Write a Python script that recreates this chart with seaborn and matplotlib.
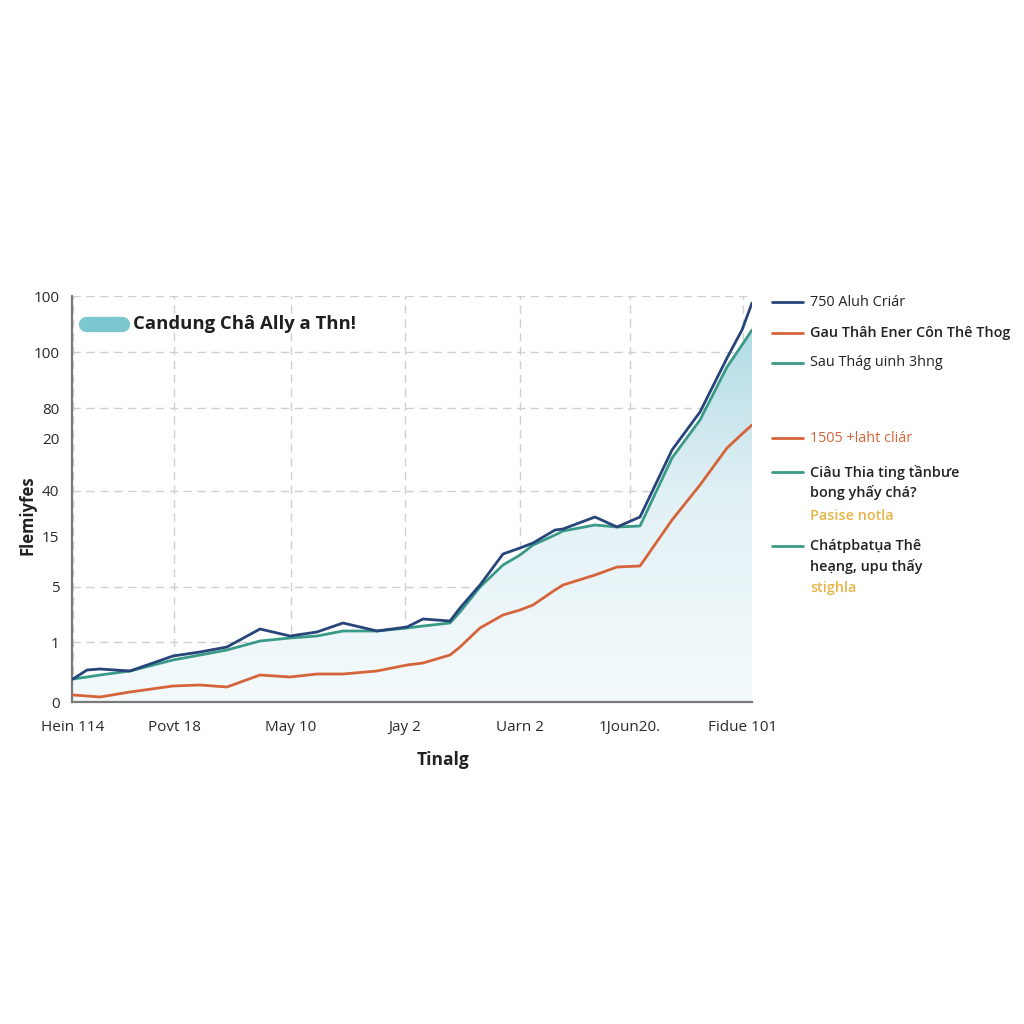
import numpy as np
import pandas as pd
import matplotlib
matplotlib.use("Agg")
import matplotlib.pyplot as plt
import seaborn as sns
from matplotlib.lines import Line2D
from matplotlib.colors import LinearSegmentedColormap

# ---------------- data ----------------
x_pos = [0, 14, 27, 57, 100, 127, 154, 187, 217, 244, 270, 304, 334, 350, 377,
         387, 407, 430, 447, 460, 482, 490, 522, 544, 567, 599, 627, 654, 669, 679]
navy = [23, 32, 33, 31, 46, 50, 55, 73, 66, 70, 79, 71, 75, 83, 81,
        94, 117, 148, 154, 159, 172, 173, 185, 175, 185, 252, 290, 344, 372, 399]
teal = [23, 25, 27, 31, 42, 47, 52, 61, 64, 66, 71, 71, 74, 76, 79,
        90, 115, 137, 147, 157, 167, 171, 177, 175, 176, 244, 282, 335, 357, 372]
orange = [7, 6, 5, 10, 16, 17, 15, 27, 25, 28, 28, 31, 37, 39, 47,
          55, 74, 87, 92, 97, 112, 117, 127, 135, 136, 182, 217, 254, 268, 277]

x_ticks = [0, 101, 218, 332, 447, 557, 670]
x_labels = ["Hein 114", "Povt 18", "May 10", "Jay 2", "Uarn 2", "1Joun20.", "Fidue 101"]
y_major = [0, 60, 115, 211, 294, 350, 406]
y_major_labels = ["0", "1", "5", "40", "80", "100", "100"]
y_minor = [165, 264]
y_minor_labels = ["15", "20"]

C_NAVY = "#27457a"
C_TEAL = "#3a9a88"
C_ORANGE = "#d5643a"
C_GOLD = "#e6b548"
C_PILL = "#7cc6cf"

df = pd.DataFrame({"x": x_pos, "navy": navy, "teal": teal, "orange": orange})

# ---------------- figure ----------------
sns.set_theme(style="white")
plt.rcParams["font.family"] = ["Open Sans", "Noto Sans", "DejaVu Sans"]

fig = plt.figure(figsize=(10.24, 10.24), dpi=100)
fig.patch.set_facecolor("white")
ax = fig.add_axes([72 / 1024, 1 - 702 / 1024, (752 - 72) / 1024, (702 - 296) / 1024])
ax.set_facecolor("white")

# gradient fill under teal line
poly = ax.fill_between(df["x"], 0, df["teal"], color="none", lw=0)
cmap = LinearSegmentedColormap.from_list("g", ["#f4fafc", "#e2f1f5", "#a9d8e3"])
grad = np.linspace(0, 1, 256).reshape(-1, 1)
im = ax.imshow(grad, extent=[min(x_pos), max(x_pos), 0, 406], origin="lower",
               aspect="auto", cmap=cmap, zorder=1)
im.set_clip_path(poly.get_paths()[0], transform=ax.transData)

sns.lineplot(data=df, x="x", y="orange", color=C_ORANGE, lw=2.0, ax=ax, zorder=3)
sns.lineplot(data=df, x="x", y="teal", color=C_TEAL, lw=2.0, ax=ax, zorder=4)
sns.lineplot(data=df, x="x", y="navy", color=C_NAVY, lw=2.0, ax=ax, zorder=5)

ax.set_xlim(-1, 679)
ax.set_ylim(0, 406)

ax.set_xticks(x_ticks)
ax.set_xticklabels(x_labels)
ax.set_yticks(y_major)
ax.set_yticklabels(y_major_labels)
ax.set_yticks(y_minor, minor=True)
ax.set_yticklabels(y_minor_labels, minor=True)

ax.tick_params(axis="both", which="major", direction="out", length=6, width=1.2,
               color="#808080", labelsize=11, labelcolor="#2a2a2a", pad=3)
ax.tick_params(axis="x", which="major", pad=7)
ax.tick_params(axis="y", which="minor", length=0, labelsize=11,
               labelcolor="#2a2a2a", pad=9, left=True)

ax.grid(True, which="major", axis="both", color="#d0d0d0", lw=1.0,
        linestyle=(0, (6, 4)))
ax.set_axisbelow(True)

for s in ["top", "right"]:
    ax.spines[s].set_visible(False)
for s in ["left", "bottom"]:
    ax.spines[s].set_color("#7a7a7a")
    ax.spines[s].set_linewidth(1.6)

ax.set_xlabel("Tinalg", fontsize=12.5, fontweight="bold", color="#222222")
ax.set_ylabel("Flemiyfes", fontsize=12, fontweight="bold", color="#222222")
ax.xaxis.set_label_coords((443 - 72) / 680, (702 - 760) / 406)
ax.yaxis.set_label_coords((28 - 72) / 680, (702 - 515) / 406)
ax.xaxis.label.set_va("center")
ax.yaxis.label.set_va("center")

# in-plot legend pill
fig.add_artist(Line2D([86 / 1024, 122 / 1024], [1 - 324 / 1024] * 2, color=C_PILL,
                      lw=11, solid_capstyle="round"))
fig.text(133 / 1024, 1 - 324 / 1024, "Candung Châ Ally a Thn!", fontsize=13.3,
         fontweight="bold", color="#1e1e1e", va="center", ha="left")

# right side legend
def leg_line(y, color):
    fig.add_artist(Line2D([772 / 1024, 803 / 1024], [1 - y / 1024] * 2, color=color, lw=2))

def leg_text(y, s, color="#222222", weight="normal", x=810):
    fig.text(x / 1024, 1 - y / 1024, s, fontsize=10.4, color=color,
             fontweight=weight, va="center", ha="left")

leg_line(302, C_NAVY)
leg_text(302, "750 Aluh Criár")
leg_line(333, C_ORANGE)
leg_text(333, "Gau Thâh Ener Côn Thê Thog", weight="semibold")
leg_line(363, C_TEAL)
leg_text(363, "Sau Thág uinh 3hng")
leg_line(438, C_ORANGE)
leg_text(438, "1505 +laht cliár", color=C_ORANGE)
leg_line(472, C_TEAL)
leg_text(472, "Ciâu Thia ting tầnbưe", weight="semibold")
leg_text(493, "bong yhấy chá?", weight="semibold")
leg_text(516, "Pasise notla", color=C_GOLD, weight="semibold")
leg_line(546, C_TEAL)
leg_text(546, "Chátpbatụa Thê", weight="semibold")
leg_text(566, "heạng, upu thấy", weight="semibold")
leg_text(588, "stighla", color=C_GOLD, weight="semibold")

fig.savefig("out.png", dpi=100, facecolor="white")
